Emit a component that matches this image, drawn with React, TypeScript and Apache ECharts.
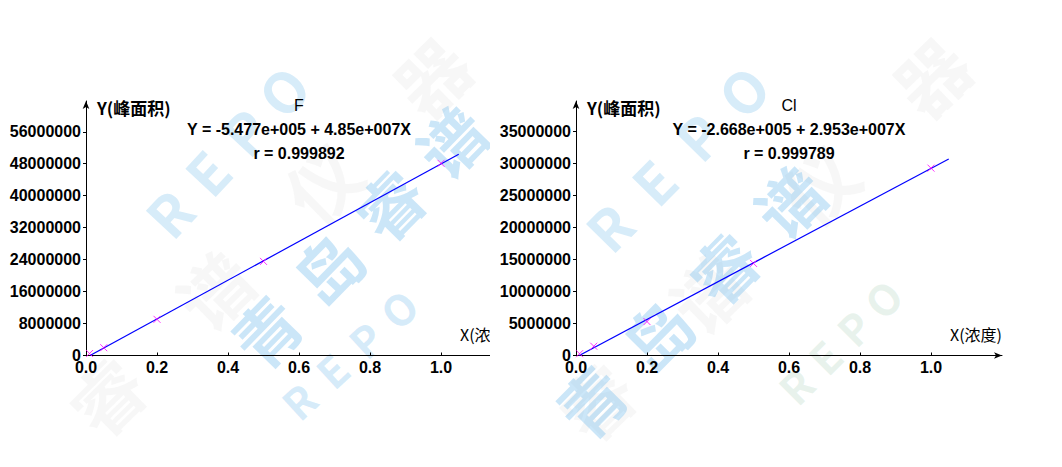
import React, { useEffect, useRef } from "react";
import * as echarts from "echarts";

// ---- data ----
const xConc = [0.01, 0.05, 0.2, 0.5, 1.0];
const areaF = [500000, 1950000, 9050000, 23550000, 48100000];
const areaCl = [280000, 1450000, 5300000, 14400000, 29300000];
const fitF = [-5.477e5, 4.85e7]; // intercept, slope
const fitCl = [-2.668e5, 2.953e7];
const xTicks = [0, 0.2, 0.4, 0.6, 0.8, 1.0];
const yTicksF = [0, 8000000, 16000000, 24000000, 32000000, 40000000, 48000000, 56000000];
const yTicksCl = [0, 5000000, 10000000, 15000000, 20000000, 25000000, 30000000, 35000000];
const titleF = "F";
const titleCl = "Cl";
const eqF = "Y = -5.477e+005 + 4.85e+007X";
const eqCl = "Y = -2.668e+005 + 2.953e+007X";
const rF = "r = 0.999892";
const rCl = "r = 0.999789";
const xName = "X(浓度)";
const yName = "Y(峰面积)";

const LINE_END = 1.05;
const X_MAX = 1.2;

type WM = { text: string; x0: number; y0: number; x1: number; y1: number; size: number; color: string };

function wmElements(list: WM[]) {
  const out: any[] = [];
  list.forEach((w) => {
    const chars = Array.from(w.text);
    const n = chars.length;
    const rot = Math.atan2(-(w.y1 - w.y0), w.x1 - w.x0);
    chars.forEach((c, i) => {
      const t = n === 1 ? 0 : i / (n - 1);
      out.push({
        type: "text",
        x: w.x0 + (w.x1 - w.x0) * t,
        y: w.y0 + (w.y1 - w.y0) * t,
        rotation: rot,
        silent: true,
        z: -10,
        style: {
          text: c,
          fontSize: w.size,
          fontWeight: "bold",
          fontFamily: "'Noto Sans CJK SC', sans-serif",
          fill: w.color,
          align: "center",
          verticalAlign: "middle",
        },
      });
    });
  });
  return out;
}

const BLUE = "rgba(110,185,235,0.36)";
const BLUE2 = "rgba(110,185,235,0.28)";
const GREEN = "rgba(150,200,170,0.22)";
const GRAY = "rgba(170,170,170,0.09)";

const wmLeft: WM[] = [
  { text: "睿谱仪器", x0: 105, y0: 395, x1: 430, y1: 75, size: 72, color: GRAY },
  { text: "REPO", x0: 168, y0: 212, x1: 282, y1: 90, size: 56, color: BLUE2 },
  { text: "青岛睿谱", x0: 265, y0: 330, x1: 450, y1: 140, size: 66, color: BLUE },
  { text: "REPO", x0: 298, y0: 400, x1: 398, y1: 308, size: 42, color: BLUE2 },
];
const wmRight: WM[] = [
  { text: "睿谱仪器", x0: 105, y0: 400, x1: 440, y1: 75, size: 72, color: GRAY },
  { text: "REPO", x0: 118, y0: 226, x1: 252, y1: 90, size: 56, color: BLUE2 },
  { text: "青岛睿谱", x0: 100, y0: 400, x1: 298, y1: 200, size: 66, color: BLUE },
  { text: "REPO", x0: 305, y0: 385, x1: 392, y1: 298, size: 42, color: GREEN },
];

function buildOption(cfg: {
  title: string;
  eq: string;
  r: string;
  ys: number[];
  fit: number[];
  yTicks: number[];
  yMax: number;
  wm: WM[];
}) {
  const [b, m] = cfg.fit;
  const x0 = -b / m;
  const lineData = [
    [x0, b + m * x0],
    [LINE_END, b + m * LINE_END],
  ];
  const pts = xConc.map((x, i) => [x, cfg.ys[i]]);
  const labelFont = "'Liberation Sans', Arial, sans-serif";
  const titleBase = {
    left: 299,
    textAlign: "center",
    padding: 0,
  } as any;
  return {
    animation: false,
    backgroundColor: "transparent",
    graphic: wmElements(cfg.wm),
    title: [
      { ...titleBase, text: cfg.title, top: 97, textStyle: { fontSize: 16, fontWeight: "normal", color: "#000", fontFamily: labelFont } },
      { ...titleBase, text: cfg.eq, top: 121, textStyle: { fontSize: 16, fontWeight: "bold", color: "#000", fontFamily: labelFont } },
      { ...titleBase, text: cfg.r, top: 145, textStyle: { fontSize: 16, fontWeight: "bold", color: "#000", fontFamily: labelFont } },
    ],
    grid: { left: 86, top: 101, width: 426, bottom: 111.5, outerBoundsMode: "none", containLabel: false },
    xAxis: {
      type: "value",
      min: 0,
      max: X_MAX,
      name: xName,
      nameLocation: "end",
      nameGap: 0,
      nameTextStyle: {
        align: "right",
        verticalAlign: "bottom",
        padding: [0, 0, 14, 0],
        fontSize: 16,
        fontFamily: "'Noto Sans CJK SC', sans-serif",
        color: "#000",
      },
      axisLine: { lineStyle: { color: "#000", width: 1 }, symbol: ["none", "arrow"], symbolSize: [5, 8] },
      axisTick: { show: true, inside: true, length: 3, lineStyle: { color: "#000" }, customValues: xTicks },
      axisLabel: {
        customValues: xTicks,
        formatter: (v: number) => v.toFixed(1),
        fontSize: 16,
        fontWeight: "bold",
        fontFamily: labelFont,
        color: "#000",
        margin: 4,
      },
      splitLine: { show: false },
    },
    yAxis: {
      type: "value",
      min: 0,
      max: cfg.yMax,
      name: yName,
      nameLocation: "end",
      nameGap: -6,
      nameTextStyle: {
        align: "left",
        verticalAlign: "middle",
        padding: [0, 0, 0, 11],
        fontSize: 17,
        fontWeight: "bold",
        fontFamily: "'Noto Sans CJK SC', sans-serif",
        color: "#000",
      },
      axisLine: { show: true, lineStyle: { color: "#000", width: 1 }, symbol: ["none", "arrow"], symbolSize: [5, 8] },
      axisTick: { show: true, inside: false, length: 3, lineStyle: { color: "#000" }, customValues: cfg.yTicks },
      axisLabel: {
        customValues: cfg.yTicks,
        formatter: (v: number) => String(Math.round(v)),
        fontSize: 16,
        fontWeight: "bold",
        fontFamily: labelFont,
        color: "#000",
        margin: 5,
      },
      splitLine: { show: false },
    },
    series: [
      {
        type: "line",
        data: lineData,
        showSymbol: false,
        symbol: "none",
        lineStyle: { color: "#0000ff", width: 1.2 },
        silent: true,
        z: 2,
      },
      {
        type: "scatter",
        data: pts,
        symbol: "path://M0,0L10,10M10,0L0,10",
        symbolSize: 7,
        itemStyle: { color: "rgba(0,0,0,0)", borderColor: "#ff00ff", borderWidth: 1 },
        silent: true,
        z: 3,
      },
    ],
  };
}

function Chart({ option, width, height }: { option: any; width: number; height: number }) {
  const ref = useRef<HTMLDivElement>(null);
  useEffect(() => {
    if (!ref.current) return;
    const chart = echarts.init(ref.current, undefined, { renderer: "svg" });
    chart.setOption(option);
    return () => chart.dispose();
  }, [option]);
  return <div ref={ref} style={{ width, height }} />;
}

const optF = buildOption({
  title: titleF,
  eq: eqF,
  r: rF,
  ys: areaF,
  fit: fitF,
  yTicks: yTicksF,
  yMax: 63700000,
  wm: wmLeft,
});
const optCl = buildOption({
  title: titleCl,
  eq: eqCl,
  r: rCl,
  ys: areaCl,
  fit: fitCl,
  yTicks: yTicksCl,
  yMax: 39800000,
  wm: wmRight,
});

export default function App() {
  return (
    <div style={{ position: "fixed", left: 0, top: 0, width: 1062, height: 467, background: "#fff", overflow: "hidden" }}>
      <div style={{ position: "absolute", left: 0, top: 0, width: 490, height: 467, overflow: "hidden" }}>
        <Chart option={optF} width={531} height={467} />
      </div>
      <div style={{ position: "absolute", left: 490, top: 0, width: 572, height: 467 }}>
        <Chart option={optCl} width={572} height={467} />
      </div>
    </div>
  );
}
